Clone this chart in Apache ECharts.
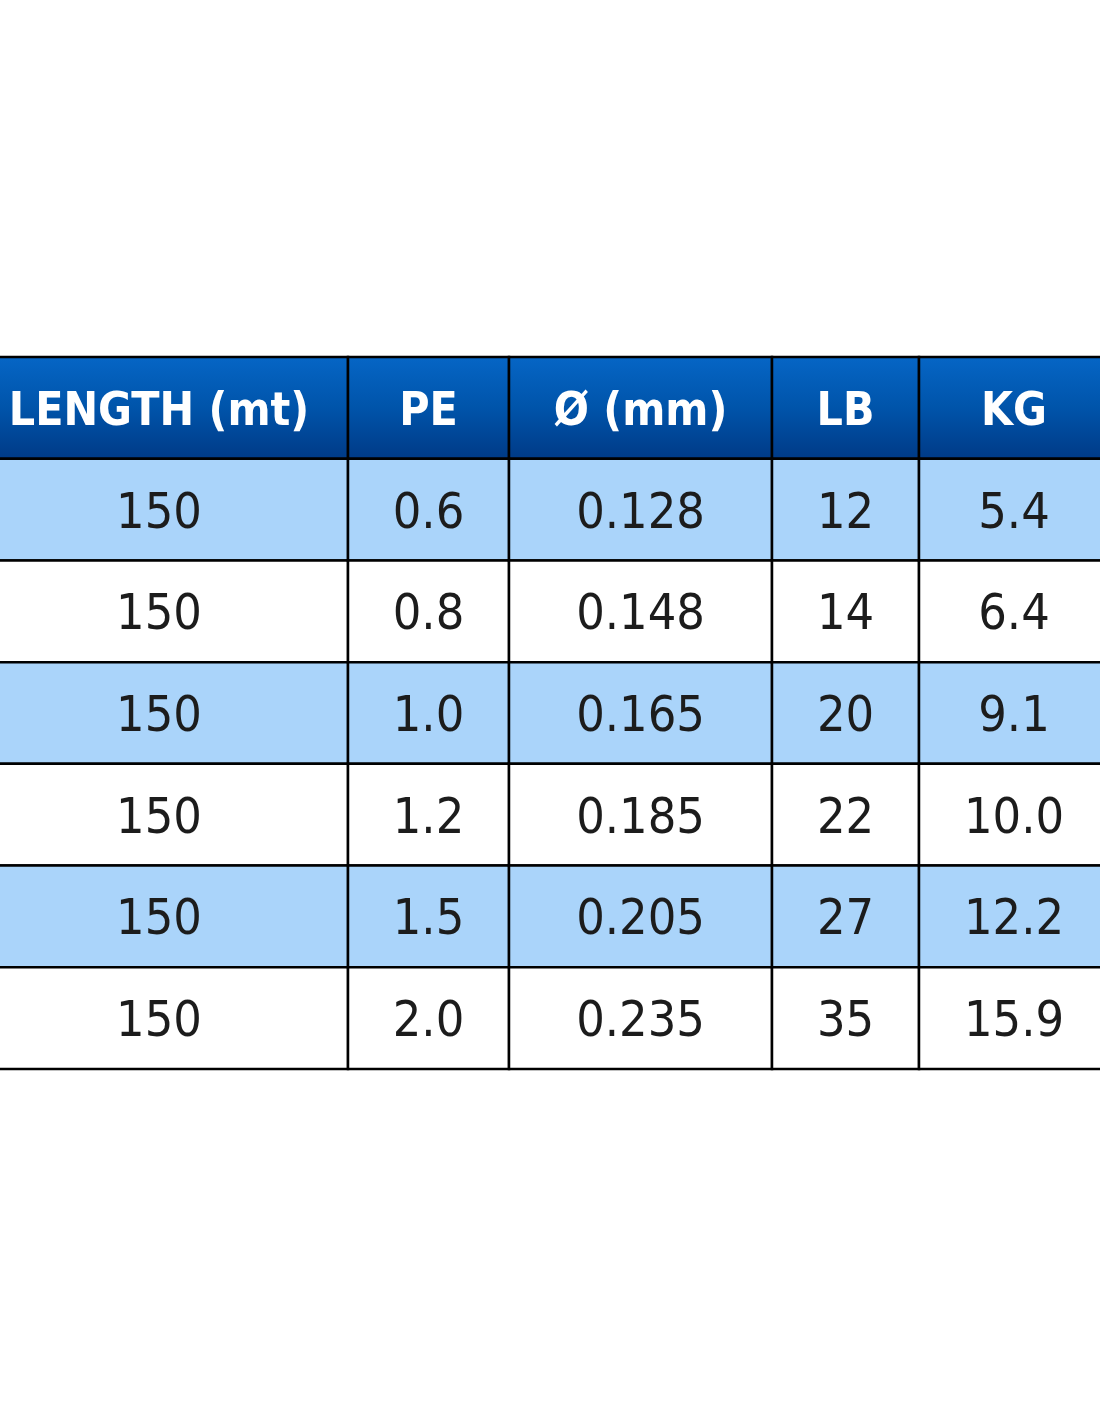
<!DOCTYPE html>
<html>
<head>
<meta charset="utf-8">
<script src="https://cdn.jsdelivr.net/npm/echarts@6/dist/echarts.min.js"></script>
<style>html,body{margin:0;padding:0;background:#fff;}#c{width:1100px;height:1422px;}</style>
</head>
<body>
<div id="c"></div>
<script>
const headers = ['LENGTH (mt)', 'PE', 'Ø (mm)', 'LB', 'KG'];
const lengths = ['150', '150', '150', '150', '150', '150'];
const pe = ['0.6', '0.8', '1.0', '1.2', '1.5', '2.0'];
const diameter = ['0.128', '0.148', '0.165', '0.185', '0.205', '0.235'];
const lb = ['12', '14', '20', '22', '27', '35'];
const kg = ['5.4', '6.4', '9.1', '10.0', '12.2', '15.9'];

const columns = [lengths, pe, diameter, lb, kg];
const rowNames = ['header'].concat(lengths.map((_, i) => 'row' + (i + 1)));
// column boundaries in x-axis units
const colEdges = [-30, 348, 509, 772, 919, 1109];

const cells = [];
headers.forEach((h, c) => cells.push([c, 0, h]));
columns.forEach((col, c) => col.forEach((v, r) => cells.push([c, r + 1, v])));

const chart = echarts.init(document.getElementById('c'));
chart.setOption({
  animation: false,
  backgroundColor: '#ffffff',
  grid: { left: 0, width: 1100, top: 357, height: 712 },
  xAxis: { type: 'value', min: 0, max: 1100, show: false },
  yAxis: { type: 'category', data: rowNames, inverse: true, show: false },
  series: [{
    type: 'custom',
    data: cells,
    encode: { x: 0, y: 1 },
    clip: false,
    renderItem: function (params, api) {
      const c = api.value(0), r = api.value(1);
      const text = cells[params.dataIndex][2];
      const p0 = api.coord([colEdges[c], r]);
      const p1 = api.coord([colEdges[c + 1], r]);
      const h = api.size([0, 1])[1];
      const x = p0[0], w = p1[0] - p0[0], y = p0[1] - h / 2;
      let fill;
      if (r === 0) {
        fill = new echarts.graphic.LinearGradient(0, 0, 0, 1, [
          { offset: 0, color: '#0666c6' },
          { offset: 0.5, color: '#0054aa' },
          { offset: 1, color: '#003a86' }
        ]);
      } else {
        fill = (r % 2 === 1) ? '#aad4fa' : '#ffffff';
      }
      const isHeader = r === 0;
      return {
        type: 'group',
        children: [
          {
            type: 'rect',
            shape: { x: x, y: y, width: w, height: h },
            style: { fill: fill, stroke: '#000000', lineWidth: 2.5 }
          },
          {
            type: 'text',
            style: {
              text: text,
              x: x + w / 2,
              y: y + h / 2 + 5,
              align: 'center',
              verticalAlign: 'middle',
              fill: isHeader ? '#ffffff' : '#1c1c1c',
              font: isHeader
                ? 'bold 46px "DejaVu Sans Condensed", Lato, sans-serif'
                : '50px "DejaVu Sans Condensed", Lato, sans-serif'
            }
          }
        ]
      };
    }
  }]
});
</script>
</body>
</html>
